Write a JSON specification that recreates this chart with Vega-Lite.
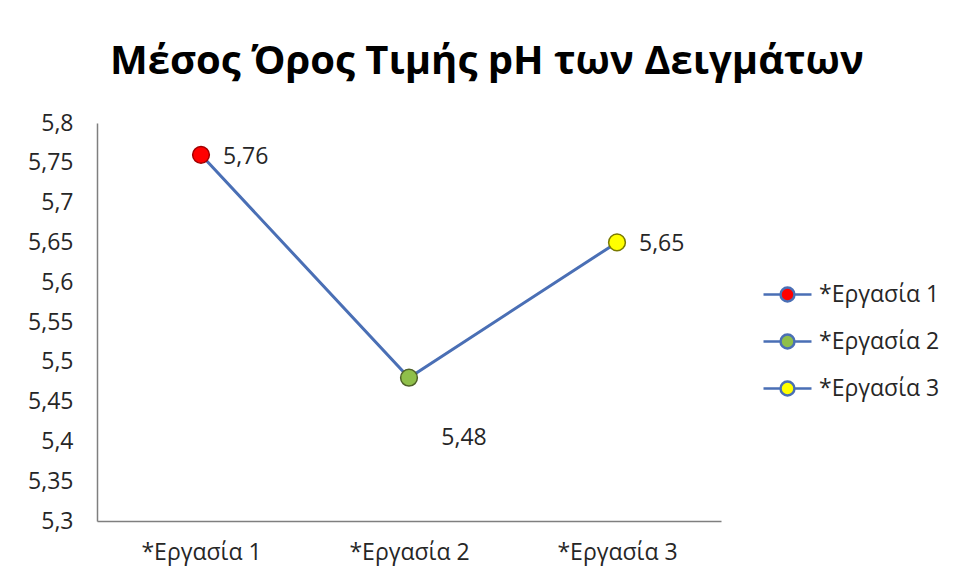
{
  "$schema": "https://vega.github.io/schema/vega-lite/v6.json",
  "width": 624,
  "height": 398,
  "autosize": {"type": "none"},
  "padding": {"left": 97, "top": 123, "right": 234, "bottom": 60},
  "background": "white",
  "title": {
    "text": "Μέσος Όρος Τιμής pH των Δειγμάτων",
    "font": "Open Sans",
    "fontSize": 40,
    "fontWeight": "bold",
    "color": "#000000",
    "anchor": "middle",
    "frame": "group",
    "dx": 78,
    "offset": 30
  },
  "config": {
    "view": {"stroke": null},
    "font": "Open Sans",
    "text": {"font": "Open Sans"}
  },
  "data": {
    "values": [
      {"task": "*Εργασία 1", "ph": 5.76, "label": "5,76"},
      {"task": "*Εργασία 2", "ph": 5.48, "label": "5,48"},
      {"task": "*Εργασία 3", "ph": 5.65, "label": "5,65"}
    ]
  },
  "encoding": {
    "x": {
      "field": "task",
      "type": "nominal",
      "sort": null,
      "scale": {"type": "point", "padding": 0.5},
      "axis": {
        "title": null,
        "labelAngle": 0,
        "labelFont": "Open Sans",
        "labelFontSize": 23,
        "labelColor": "#262626",
        "labelPadding": 20,
        "ticks": false,
        "domainColor": "#7f7f7f",
        "domainWidth": 1.5,
        "grid": false
      }
    },
    "y": {
      "field": "ph",
      "type": "quantitative",
      "scale": {"domain": [5.3, 5.8], "nice": false, "zero": false},
      "axis": {
        "title": null,
        "values": [5.3, 5.35, 5.4, 5.45, 5.5, 5.55, 5.6, 5.65, 5.7, 5.75, 5.8],
        "labelExpr": "replace(format(datum.value, '.2~f'), '.', ',')",
        "labelFont": "Open Sans",
        "labelFontSize": 23,
        "labelColor": "#262626",
        "labelPadding": 24,
        "ticks": false,
        "grid": false,
        "domainColor": "#7f7f7f",
        "domainWidth": 1.5
      }
    }
  },
  "layer": [
    {
      "mark": {"type": "line", "color": "#4a6fb5", "strokeWidth": 3}
    },
    {
      "mark": {"type": "point", "filled": true, "size": 280, "opacity": 1},
      "encoding": {
        "fill": {
          "field": "task",
          "type": "nominal",
          "sort": null,
          "scale": {"domain": ["*Εργασία 1", "*Εργασία 2", "*Εργασία 3"], "range": ["#ff0000", "#8fbf4a", "#ffff00"]},
          "legend": {
            "title": null,
            "orient": "none",
            "legendX": 665,
            "legendY": 146,
            "symbolType": "M-1,0H-0.29 M0.29,0H1 M0.29,0A0.29,0.29 0 1,1 -0.29,0A0.29,0.29 0 1,1 0.29,0Z",
            "symbolSize": 2304,
            "symbolStrokeColor": "#4a6fb5",
            "symbolStrokeWidth": 2.5,
            "symbolOpacity": 1,
            "labelFont": "Open Sans",
            "labelFontSize": 23,
            "labelColor": "#262626",
            "labelOffset": 6,
            "rowPadding": 9
          }
        }
      }
    },
    {
      "mark": {"type": "point", "filled": false, "size": 280, "opacity": 1, "strokeWidth": 1.5},
      "encoding": {
        "stroke": {
          "field": "label",
          "type": "nominal",
          "sort": null,
          "scale": {"domain": ["5,76", "5,48", "5,65"], "range": ["#a00000", "#4f6228", "#7a7a00"]},
          "legend": null
        }
      }
    },
    {
      "transform": [{"filter": "datum.task !== '*Εργασία 2'"}],
      "mark": {"type": "text", "align": "left", "baseline": "middle", "dx": 22, "dy": 2, "fontSize": 23, "font": "Open Sans", "color": "#262626"},
      "encoding": {"text": {"field": "label"}}
    },
    {
      "transform": [{"filter": "datum.task === '*Εργασία 2'"}],
      "mark": {"type": "text", "align": "center", "baseline": "middle", "dx": 55, "dy": 60, "fontSize": 23, "font": "Open Sans", "color": "#262626"},
      "encoding": {"text": {"field": "label"}}
    }
  ]
}
